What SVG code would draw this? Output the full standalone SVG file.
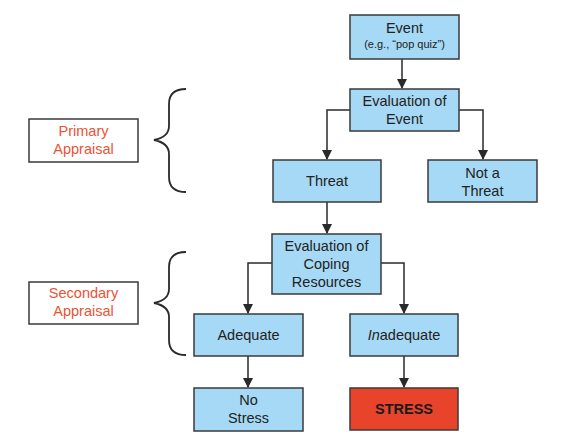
<svg xmlns="http://www.w3.org/2000/svg" width="566" height="439" viewBox="0 0 566 439">
<defs>
<marker id="arr" markerWidth="10" markerHeight="10" refX="9" refY="5" orient="auto" markerUnits="userSpaceOnUse">
<path d="M0,0 L10,5 L0,10 Z" fill="#2a2a2a"/>
</marker>
<style>
.box{fill:#a6d9f5;stroke:#3a3a3a;stroke-width:1.5}
.red{fill:#e8442c;stroke:#3a3a3a;stroke-width:1.5}
.lbl{fill:#ffffff;stroke:#3a3a3a;stroke-width:1.5}
.t{font-family:"Liberation Sans",Arial,sans-serif;font-size:14.5px;fill:#222;text-anchor:middle}
.s{font-size:11px}
.r{fill:#ec5234}
.b{font-weight:bold;fill:#1a1a1a}
.c{fill:none;stroke:#2a2a2a;stroke-width:1.5}
.br{fill:none;stroke:#2a2a2a;stroke-width:1.8}
</style>
</defs>
<rect width="566" height="439" fill="#ffffff"/>
<g id="connectors">
<path class="c" d="M402,59 L402,88" marker-end="url(#arr)"/>
<path class="c" d="M350,110 L327,110 L327,159" marker-end="url(#arr)"/>
<path class="c" d="M459,110 L483,110 L483,159" marker-end="url(#arr)"/>
<path class="c" d="M327,202 L327,233" marker-end="url(#arr)"/>
<path class="c" d="M272,263 L248,263 L248,313" marker-end="url(#arr)"/>
<path class="c" d="M381,263 L404,263 L404,313" marker-end="url(#arr)"/>
<path class="c" d="M248,356 L248,387" marker-end="url(#arr)"/>
<path class="c" d="M404,356 L404,387" marker-end="url(#arr)"/>
</g>
<g id="brace-primary">
<path class="br" d="M186,89 Q169,89 169,104 L169,126 Q169,137 154,140 Q169,143 169,154 L169,177 Q169,192 186,192"/>
</g>
<g id="brace-secondary">
<path class="br" d="M186,252 Q169,252 169,267 L169,289 Q169,300 154,303 Q169,306 169,317 L169,340 Q169,355 186,355"/>
</g>
<g id="primary-appraisal">
<rect class="lbl" x="29" y="119" width="109" height="43"/>
<text class="t r" x="83.5" y="136">Primary</text>
<text class="t r" x="83.5" y="154">Appraisal</text>
</g>
<g id="secondary-appraisal">
<rect class="lbl" x="29" y="282" width="109" height="42"/>
<text class="t r" x="83.5" y="298">Secondary</text>
<text class="t r" x="83.5" y="316">Appraisal</text>
</g>
<g id="event">
<rect class="box" x="350" y="15" width="109" height="44"/>
<text class="t" x="404.5" y="33">Event</text>
<text class="t s" x="404.5" y="48">(e.g., “pop quiz”)</text>
</g>
<g id="eval-event">
<rect class="box" x="350" y="89" width="109" height="42"/>
<text class="t" x="404.5" y="106">Evaluation of</text>
<text class="t" x="404.5" y="124">Event</text>
</g>
<g id="threat">
<rect class="box" x="273" y="160" width="108" height="42"/>
<text class="t" x="327" y="186">Threat</text>
</g>
<g id="not-threat">
<rect class="box" x="428" y="160" width="109" height="42"/>
<text class="t" x="482.5" y="178">Not a</text>
<text class="t" x="482.5" y="196">Threat</text>
</g>
<g id="eval-coping">
<rect class="box" x="272" y="234" width="109" height="60"/>
<text class="t" x="326.5" y="251">Evaluation of</text>
<text class="t" x="326.5" y="269">Coping</text>
<text class="t" x="326.5" y="287">Resources</text>
</g>
<g id="adequate">
<rect class="box" x="194" y="314" width="109" height="42"/>
<text class="t" x="248.5" y="340">Adequate</text>
</g>
<g id="inadequate">
<rect class="box" x="350" y="314" width="108" height="42"/>
<text class="t" x="404" y="340"><tspan font-style="italic">In</tspan>adequate</text>
</g>
<g id="no-stress">
<rect class="box" x="194" y="388" width="109" height="43"/>
<text class="t" x="248.5" y="405">No</text>
<text class="t" x="248.5" y="423">Stress</text>
</g>
<g id="stress">
<rect class="red" x="350" y="388" width="108" height="42"/>
<text class="t b" x="404" y="414">STRESS</text>
</g>
</svg>
